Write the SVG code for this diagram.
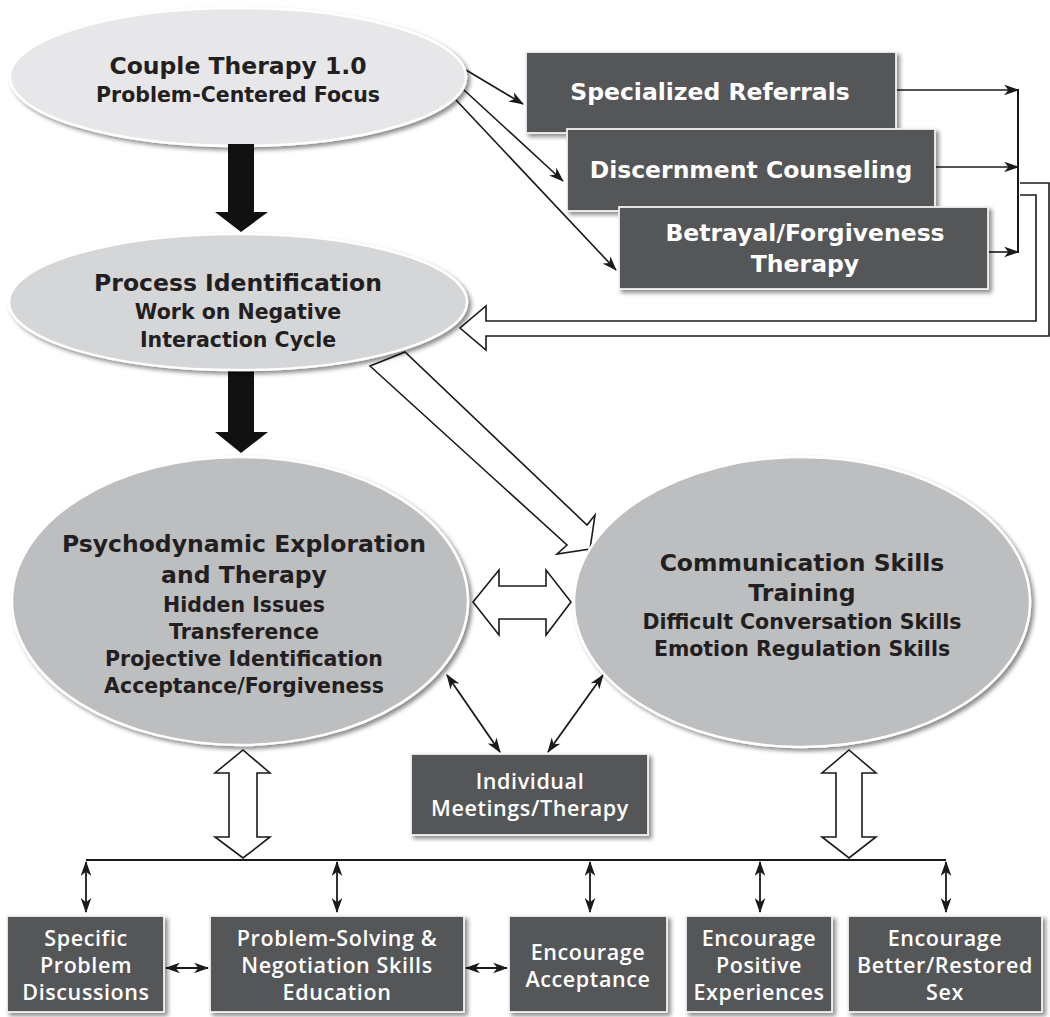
<svg xmlns="http://www.w3.org/2000/svg" width="1050" height="1017" viewBox="0 0 1050 1017">
<defs>
<filter id="sh" x="-10%" y="-10%" width="125%" height="130%">
<feDropShadow dx="3" dy="3" stdDeviation="2" flood-color="#000" flood-opacity="0.45"/>
</filter>
<marker id="ah" viewBox="0 0 14 10" refX="13" refY="5" markerWidth="15" markerHeight="11" markerUnits="userSpaceOnUse" orient="auto-start-reverse">
<path d="M0,0 L14,5 L0,10 L4,5 z" fill="#1a1a1a"/>
</marker>
<style>
.ell{stroke:#fff;stroke-width:2.5;filter:url(#sh)}
.box{fill:#555658;stroke:#f2f2f2;stroke-width:1.8;filter:url(#sh)}
.et{font-family:"DejaVu Sans","Open Sans",sans-serif;font-weight:700;fill:#231f20;text-anchor:middle}
.bt{font-family:"DejaVu Sans","Open Sans",sans-serif;font-weight:700;fill:#fff;text-anchor:middle;font-size:23.5px}
.st{font-family:"Open Sans","DejaVu Sans",sans-serif;font-weight:600;fill:#fff;text-anchor:middle;font-size:21.5px;letter-spacing:0.6px}
.ln{fill:none;stroke:#1a1a1a;stroke-width:1.6}
.dl{fill:none;stroke:#1a1a1a;stroke-width:1.8;marker-start:url(#ah);marker-end:url(#ah)}
.sl{fill:none;stroke:#1a1a1a;stroke-width:1.6;marker-end:url(#ah)}
.hol{fill:#fff;stroke:#1a1a1a;stroke-width:1.6;stroke-linejoin:miter}
.blk{fill:#111;stroke:none}
</style>
</defs>

<g id="connectors">
<polygon class="hol" points="370,366 567,545 557,554 590,549 595,515 587,525 405,352"/>
<line class="sl" x1="466" y1="70" x2="523" y2="104"/>
<line class="sl" x1="464" y1="90" x2="563" y2="181"/>
<line class="sl" x1="456" y1="100" x2="616" y2="270"/>
<line class="sl" x1="896" y1="90" x2="1018" y2="90"/>
<line class="sl" x1="935" y1="167" x2="1018" y2="167"/>
<line class="sl" x1="988" y1="252" x2="1018" y2="252"/>
<line class="ln" x1="1018" y1="89" x2="1018" y2="253" style="stroke-width:2"/>
<path class="hol" d="M1020,183 L1049,183 L1049,336 L486,336 L486,350 L460,328 L486,306 L486,321 L1036,321 L1036,195 L1020,195"/>
<polygon class="hol" points="473,602 499,570 499,586 546,586 546,570 571,602 546,635 546,619 499,619 499,635"/>
<line class="dl" x1="447" y1="675" x2="500" y2="752"/>
<line class="dl" x1="603" y1="675" x2="548" y2="752"/>
<polygon class="hol" points="243,750 270,773 257,773 257,837 270,837 243,858 215,837 229,837 229,773 215,773"/>
<polygon class="hol" points="849,750 876,773 862,773 862,837 876,837 849,858 822,837 836,837 836,773 822,773"/>
<line class="ln" x1="86" y1="860" x2="946" y2="860" style="stroke-width:2"/>
<line class="dl" x1="86" y1="862" x2="86" y2="912"/>
<line class="dl" x1="337" y1="862" x2="337" y2="912"/>
<line class="dl" x1="590" y1="862" x2="590" y2="912"/>
<line class="dl" x1="760" y1="862" x2="760" y2="912"/>
<line class="dl" x1="946" y1="862" x2="946" y2="912"/>
<line class="dl" x1="166" y1="968" x2="208" y2="968"/>
<line class="dl" x1="466" y1="968" x2="507" y2="968"/>
</g>

<g id="couple-therapy">
<ellipse class="ell" cx="238" cy="77" rx="228" ry="69" fill="#e7e7e9"/>
<text class="et" x="238" y="74" font-size="23.5">Couple Therapy 1.0</text>
<text class="et" x="238" y="102" font-size="20.5">Problem-Centered Focus</text>
</g>

<g id="black-arrows">
<polygon class="blk" points="228,144 254,144 254,212 268,212 241,232 215,212 228,212"/>
<polygon class="blk" points="228,368 254,368 254,432 268,432 241,453 215,432 228,432"/>
</g>

<g id="process-identification">
<ellipse class="ell" cx="238" cy="302" rx="229" ry="68" fill="#d5d6d8"/>
<text class="et" x="238" y="291" font-size="23.5">Process Identification</text>
<text class="et" x="238" y="319" font-size="20.5">Work on Negative</text>
<text class="et" x="238" y="347" font-size="20.5">Interaction Cycle</text>
</g>

<g id="specialized-referrals">
<rect class="box" x="526" y="52" width="370" height="81"/>
<text class="bt" x="710" y="100">Specialized Referrals</text>
</g>

<g id="discernment-counseling">
<rect class="box" x="567" y="129" width="368" height="82"/>
<text class="bt" x="751" y="178">Discernment Counseling</text>
</g>

<g id="betrayal-forgiveness">
<rect class="box" x="619" y="207" width="369" height="82"/>
<text class="bt" x="805" y="241">Betrayal/Forgiveness</text>
<text class="bt" x="805" y="272">Therapy</text>
</g>

<g id="psychodynamic">
<ellipse class="ell" cx="240" cy="601" rx="228" ry="144" fill="#bdbec0"/>
<text class="et" x="244" y="552" font-size="23.5">Psychodynamic Exploration</text>
<text class="et" x="244" y="583" font-size="23.5">and Therapy</text>
<text class="et" x="244" y="612" font-size="20.5">Hidden Issues</text>
<text class="et" x="244" y="639" font-size="20.5">Transference</text>
<text class="et" x="244" y="666" font-size="20.5">Projective Identification</text>
<text class="et" x="244" y="693" font-size="20.5">Acceptance/Forgiveness</text>
</g>

<g id="communication-skills">
<ellipse class="ell" cx="802" cy="602" rx="228" ry="145" fill="#bdbec0"/>
<text class="et" x="802" y="571" font-size="23.5">Communication Skills</text>
<text class="et" x="802" y="601" font-size="23.5">Training</text>
<text class="et" x="802" y="629" font-size="20.5">Difficult Conversation Skills</text>
<text class="et" x="802" y="656" font-size="20.5">Emotion Regulation Skills</text>
</g>

<g id="individual-meetings">
<rect class="box" x="411" y="754" width="237" height="81"/>
<text class="st" x="530" y="789">Individual</text>
<text class="st" x="530" y="816">Meetings/Therapy</text>
</g>

<g id="specific-problem">
<rect class="box" x="7" y="916" width="157" height="96"/>
<text class="st" x="86" y="946">Specific</text>
<text class="st" x="86" y="973">Problem</text>
<text class="st" x="86" y="1000">Discussions</text>
</g>

<g id="problem-solving">
<rect class="box" x="210" y="916" width="254" height="96"/>
<text class="st" x="337" y="946">Problem-Solving &amp;</text>
<text class="st" x="337" y="973">Negotiation Skills</text>
<text class="st" x="337" y="1000">Education</text>
</g>

<g id="encourage-acceptance">
<rect class="box" x="509" y="916" width="158" height="96"/>
<text class="st" x="588" y="960">Encourage</text>
<text class="st" x="588" y="987">Acceptance</text>
</g>

<g id="encourage-positive">
<rect class="box" x="686" y="916" width="146" height="96"/>
<text class="st" x="759" y="946">Encourage</text>
<text class="st" x="759" y="973">Positive</text>
<text class="st" x="759" y="1000">Experiences</text>
</g>

<g id="encourage-sex">
<rect class="box" x="848" y="916" width="194" height="96"/>
<text class="st" x="945" y="946">Encourage</text>
<text class="st" x="945" y="973">Better/Restored</text>
<text class="st" x="945" y="1000">Sex</text>
</g>
</svg>
